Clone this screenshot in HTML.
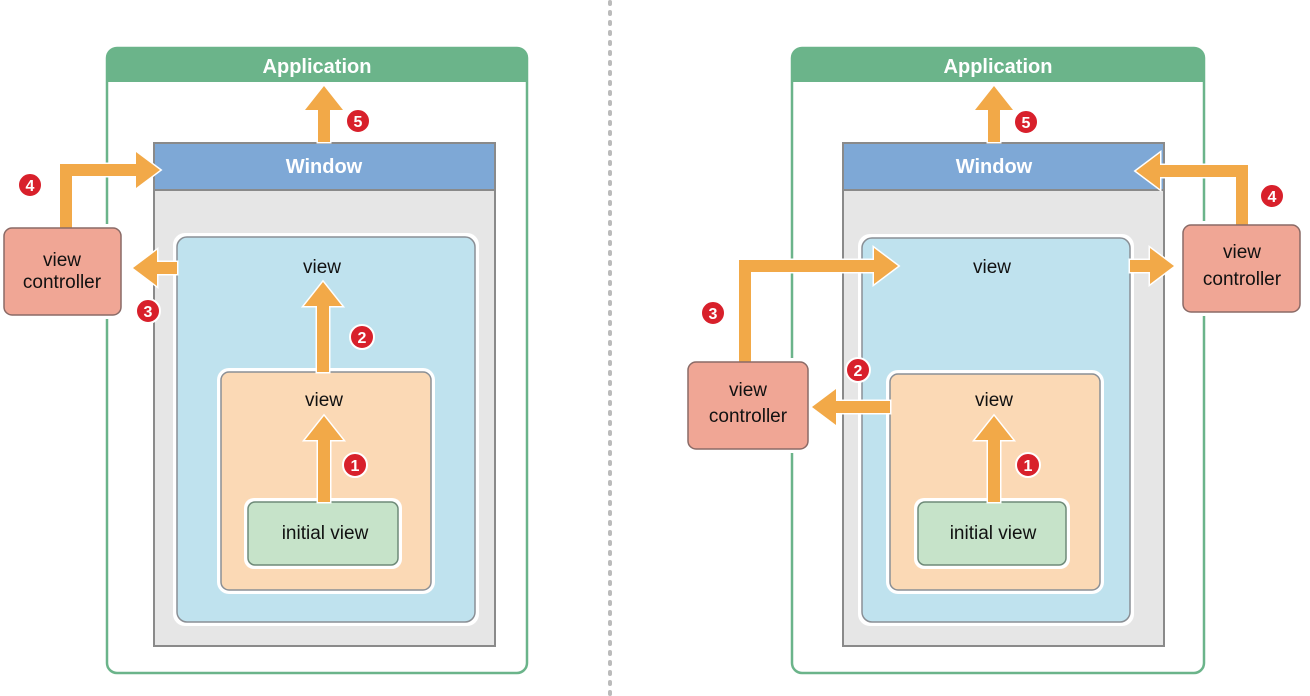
<!DOCTYPE html>
<html><head><style>html,body{margin:0;padding:0;background:#fff}svg{display:block}</style></head><body>
<svg width="1310" height="696" viewBox="0 0 1310 696" xmlns="http://www.w3.org/2000/svg" font-family="Liberation Sans, sans-serif">
<defs>
<style>
.app{fill:#fff;stroke:#6bb48a;stroke-width:2.5}
.win{fill:#e6e6e6;stroke:#8a8a8a;stroke-width:2}
.bv{fill:#bfe2ee;stroke:#8a8f95;stroke-width:1.5}
.ov{fill:#fbd9b5;stroke:#8a8f95;stroke-width:1.5}
.iv{fill:#c6e3c9;stroke:#6e8a78;stroke-width:1.5}
.halo{fill:#fff}
.vc{fill:#f0a695;stroke:#8a6a66;stroke-width:1.5}
.ar{fill:#f2a948;stroke:#fff;stroke-width:3;paint-order:stroke;stroke-linejoin:miter}
.lbl{font-size:19px;fill:#111;text-anchor:middle}
.ttl{font-size:20px;font-weight:bold;fill:#fff;text-anchor:middle}
.bc{fill:#d8202b;stroke:#fff;stroke-width:2}
.bt{font-size:16px;font-weight:bold;fill:#fff;text-anchor:middle}
</style>
</defs>
<line x1="610" y1="2" x2="610" y2="696" stroke="#bbb" stroke-width="4" stroke-dasharray="2,8" stroke-linecap="round"/>

<rect class="app" x="107" y="48" width="420" height="625" rx="10"/>
<path d="M107,82 V58 a10,10 0 0 1 10,-10 H517 a10,10 0 0 1 10,10 V82 Z" fill="#6bb48a"/>
<text class="ttl" x="317" y="73">Application</text>
<rect class="win" x="154" y="143" width="341" height="503"/>
<rect x="154" y="143" width="341" height="47" fill="#7ea8d6" stroke="#8a8a8a" stroke-width="2"/>
<text class="ttl" x="324" y="173">Window</text>
<rect class="halo" x="173" y="233" width="306" height="393" rx="12"/>
<rect class="bv" x="177" y="237" width="298" height="385" rx="10"/>
<text class="lbl" x="322" y="273">view</text>
<rect class="halo" x="217" y="368" width="218" height="226" rx="12"/>
<rect class="ov" x="221" y="372" width="210" height="218" rx="8"/>
<text class="lbl" x="324" y="406">view</text>
<rect class="halo" x="244" y="498" width="158" height="71" rx="10"/>
<rect class="iv" x="248" y="502" width="150" height="63" rx="7"/>
<text class="lbl" x="325" y="539">initial view</text>
<path class="ar" d="M318,502 V440 H305 L324,416 L343,440 H330 V502 Z"/>
<path class="ar" d="M317,372 V306 H304 L323,282 L342,306 H329 V372 Z"/>
<path class="ar" d="M318,142 V110 H305 L324,86 L343,110 H330 V142 Z"/>
<path class="ar" d="M177,262 H157 V250 L133,268 L157,286 V274 H177 Z"/>
<rect class="halo" x="0" y="224" width="125" height="95" rx="10"/>
<path class="ar" d="M60,228 V164 H136 V152 L160,170 L136,188 V176 H72 V228 Z"/>
<rect class="vc" x="4" y="228" width="117" height="87" rx="8"/>
<text class="lbl" x="62" y="266">view</text>
<text class="lbl" x="62" y="288">controller</text>
<circle class="bc" cx="355" cy="465" r="12"/><text class="bt" x="355" y="471">1</text>
<circle class="bc" cx="362" cy="337" r="12"/><text class="bt" x="362" y="343">2</text>
<circle class="bc" cx="148" cy="311" r="12"/><text class="bt" x="148" y="317">3</text>
<circle class="bc" cx="30" cy="185" r="12"/><text class="bt" x="30" y="191">4</text>
<circle class="bc" cx="358" cy="121" r="12"/><text class="bt" x="358" y="127">5</text>

<rect class="app" x="792" y="48" width="412" height="625" rx="10"/>
<path d="M792,82 V58 a10,10 0 0 1 10,-10 H1194 a10,10 0 0 1 10,10 V82 Z" fill="#6bb48a"/>
<text class="ttl" x="998" y="73">Application</text>
<rect class="win" x="843" y="143" width="321" height="503"/>
<rect x="843" y="143" width="321" height="47" fill="#7ea8d6" stroke="#8a8a8a" stroke-width="2"/>
<text class="ttl" x="994" y="173">Window</text>
<rect class="halo" x="858" y="234" width="276" height="392" rx="12"/>
<rect class="bv" x="862" y="238" width="268" height="384" rx="10"/>
<text class="lbl" x="992" y="273">view</text>
<rect class="halo" x="886" y="370" width="218" height="224" rx="12"/>
<rect class="ov" x="890" y="374" width="210" height="216" rx="8"/>
<text class="lbl" x="994" y="406">view</text>
<rect class="halo" x="914" y="498" width="156" height="71" rx="10"/>
<rect class="iv" x="918" y="502" width="148" height="63" rx="7"/>
<text class="lbl" x="993" y="539">initial view</text>
<path class="ar" d="M988,502 V440 H975 L994,416 L1013,440 H1000 V502 Z"/>
<path class="ar" d="M988,142 V110 H975 L994,86 L1013,110 H1000 V142 Z"/>
<path class="ar" d="M890,401 H836 V389 L812,407 L836,425 V413 H890 Z"/>
<path class="ar" d="M1130,260 H1150 V248 L1174,266 L1150,284 V272 H1130 Z"/>
<rect class="halo" x="684" y="358" width="128" height="95" rx="10"/>
<rect class="halo" x="1179" y="221" width="125" height="95" rx="10"/>
<path class="ar" d="M739,362 V260 H874 V248 L898,266 L874,284 V272 H751 V362 Z"/>
<path class="ar" d="M1248,225 V165 H1160 V153 L1136,171 L1160,189 V177 H1236 V225 Z"/>
<rect class="vc" x="688" y="362" width="120" height="87" rx="8"/>
<text class="lbl" x="748" y="396">view</text>
<text class="lbl" x="748" y="422">controller</text>
<rect class="vc" x="1183" y="225" width="117" height="87" rx="8"/>
<text class="lbl" x="1242" y="258">view</text>
<text class="lbl" x="1242" y="285">controller</text>
<circle class="bc" cx="1028" cy="465" r="12"/><text class="bt" x="1028" y="471">1</text>
<circle class="bc" cx="858" cy="370" r="12"/><text class="bt" x="858" y="376">2</text>
<circle class="bc" cx="713" cy="313" r="12"/><text class="bt" x="713" y="319">3</text>
<circle class="bc" cx="1272" cy="196" r="12"/><text class="bt" x="1272" y="202">4</text>
<circle class="bc" cx="1026" cy="122" r="12"/><text class="bt" x="1026" y="128">5</text>
</svg>
</body></html>
